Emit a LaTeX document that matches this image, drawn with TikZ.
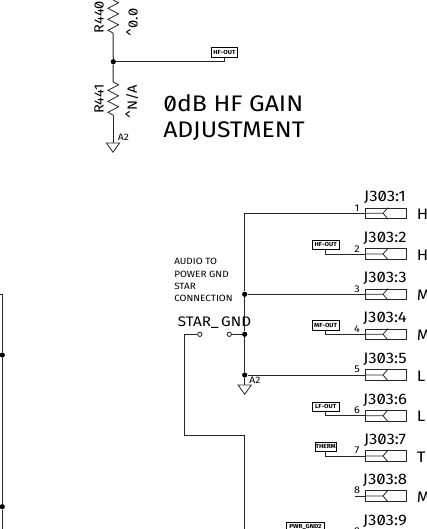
\documentclass[tikz,border=0pt]{standalone}
\usepackage{fontspec}
\setmainfont{Fira Sans}[Numbers=SlashedZero,FakeStretch=1.1]
\tikzset{
  x=0.75pt,y=-0.75pt,
  wire/.style={draw=black!85,line width=0.75pt},
  dot/.style={circle,fill=black,inner sep=0pt,minimum size=5.2pt*0.75},
  opendot/.style={circle,draw=black!85,fill=white,line width=0.6pt,inner sep=0pt,minimum size=4.4pt*0.75},
  gndsym/.style={draw=black!85,line width=0.6pt},
  netbox/.style={draw=black,line width=0.6pt,fill=white,inner sep=0pt,minimum height=9.3*0.75pt,font=\bfseries\fontsize{4.4pt}{5pt}\selectfont},
  conn/.style={draw=black!85,line width=0.6pt,inner sep=0pt,minimum width=41*0.75pt,minimum height=10.7*0.75pt},
  jlab/.style={font=\fontsize{11.4pt}{13pt}\selectfont,inner sep=0pt},
  pinno/.style={font=\fontsize{7.4pt}{9pt}\selectfont,inner sep=0pt},
  sig/.style={font=\fontsize{11.4pt}{13pt}\selectfont,inner sep=0pt,anchor=west},
  note/.style={font=\fontsize{6.8pt}{8pt}\selectfont,inner sep=0pt,anchor=west},
  title/.style={font=\fontsize{16.9pt}{18pt}\selectfont,inner sep=0pt,anchor=west},
  reslab/.style={font=\fontsize{10pt}{11pt}\selectfont,inner sep=0pt,rotate=90},
  small/.style={font=\fontsize{7pt}{8pt}\selectfont,inner sep=0pt},
}
\newcommand{\zigzag}[1]{%
  \draw[wire,line width=0.6pt] (113,#1) -- (118.5,#1+2.8) -- (108,#1+8.3) -- (118.5,#1+13.8) -- (108,#1+19.3) -- (118.5,#1+24.8) -- (108,#1+30.3) -- (113,#1+33);}
\newcommand{\ground}[1]{%
  \draw[gndsym] ($(#1)+(-6.6,0)$) -- ($(#1)+(6.6,0)$) -- ($(#1)+(0,9.3)$) -- cycle;}
\usetikzlibrary{calc}
\begin{document}
\begin{tikzpicture}
\useasboundingbox (0,0) rectangle (426,529);
% top resistor network
\coordinate (r440t) at (113,-1);
\coordinate (r440b) at (113,33);
\coordinate (r441t) at (113,82);
\coordinate (r441b) at (113,115);
\coordinate (g1) at (113,143);
\zigzag{0}
\zigzag{82}
\node[dot] (jt) at (113.3,61.7) {};
\node[netbox,minimum width=25.6*0.75pt] (hf1) at (224.5,52.5) {HF-OUT};
\draw[wire] (r440b) -- (jt) -- (r441t);
\draw[wire] (r441b) -- (g1);
\draw[wire] (jt) -| (hf1.south);
\ground{g1}
\node[small] (a2a) at (123.5,137.7) {A2};
\node[reslab] (r440) at (99,17) {R440};
\node[reslab] (v440) at (132,22.5) {\char`\^0.0};
\node[reslab] (r441) at (99,99) {R441};
\node[reslab] (v441) at (132,102) {\char`\^N/A};
\node[title] (t1) at (163,103) {0dB HF GAIN};
\node[title] (t2) at (163,131) {ADJUSTMENT};
% connectors
\foreach \n/\y/\s in {1/213.3/H,2/254/H,3/294.3/M,4/334.3/M,5/375/L,6/415.7/L,7/456/TH,8/496/M,9/536.3/P}{
  \node[conn] (c\n) at (386.2,\y) {};
  \draw[wire,line width=0.6pt] ($(c\n.west)$) -- ($(c\n.west)+(17.7,0)$) -- ($(c\n.north west)+(22.7,0)$);
  \draw[wire,line width=0.6pt] ($(c\n.west)+(17.7,0)$) -- ($(c\n.south west)+(22.7,0)$);
  \node[jlab] (l\n) at (385,\y-15.5) {J303:\n};
  \node[pinno] (p\n) at (357,\y-5.3) {\n};
}
\foreach \n/\s in {1/H,2/H,3/M,4/M,5/L,6/L,7/TH,8/M}{
  \node[sig] (s\n) at ($(c\n.east)+(9.5,0.8)$) {\s};
}
% main net
\node[dot] (j3) at (244.7,294.3) {};
\node[dot] (j4) at (244.7,334.3) {};
\node[dot] (j5) at (244.7,375) {};
\coordinate (g2) at (244.7,385);
\coordinate (top) at (244.7,213.3);
\draw[wire] (c1.west) -- (top) -- (j3) -- (j4) -- (j5) -- (g2);
\ground{g2}
\draw[wire] (j3) -- (c3.west);
\draw[wire] (j5) -- (c5.west);
\node[small] (a2b) at (255,380) {A2};
% star switch
\node[opendot] (sw1) at (229.3,334.3) {};
\node[opendot] (sw2) at (199.8,334.3) {};
\draw[wire] (sw1) -- (j4);
\coordinate (k1) at (184,334.3);
\coordinate (k2) at (184,435.7);
\coordinate (k3) at (244.7,435.7);
\coordinate (k4) at (244.7,532);
\draw[wire] (sw2) -- (k1) -- (k2) -- (k3) -- (k4);
\node[font=\fontsize{10.4pt}{12pt}\selectfont,inner sep=0pt] (star) at (214.5,323) {STAR\_\,GND};
\node[note] (n1) at (174,261) {AUDIO TO};
\node[note] (n2) at (174,274) {POWER GND};
\node[note] (n3) at (174,286.3) {STAR};
\node[note] (n4) at (174,298.7) {CONNECTION};
% net flags
\node[netbox,minimum width=26.7*0.75pt] (hf2) at (325.7,244.6) {HF-OUT};
\node[netbox,minimum width=26.7*0.75pt] (mf) at (325.7,325.3) {MF-OUT};
\node[netbox,minimum width=26.7*0.75pt] (lf) at (325.7,406.6) {LF-OUT};
\node[netbox,minimum width=21.3*0.75pt] (th) at (325.7,446.6) {THERM};
\node[netbox,minimum width=37.3*0.75pt] (pg) at (305.4,527.4) {PWR\_GND2};
\draw[wire] (hf2.south) |- (c2.west);
\draw[wire] (mf.south) |- (c4.west);
\draw[wire] (lf.south) |- (c6.west);
\draw[wire] (th.south) |- (c7.west);
\coordinate (w8) at (355,496);
\draw[wire] (w8) -- (c8.west);
% left edge
\coordinate (e1) at (-1,294.7);
\coordinate (e2) at (2.3,294.7);
\coordinate (e3) at (2.3,532);
\node[dot] (je1) at (2.3,355) {};
\node[dot] (je2) at (2.3,506.7) {};
\draw[wire] (e1) -- (e2) -- (je1) -- (je2) -- (e3);
\end{tikzpicture}
\end{document}
